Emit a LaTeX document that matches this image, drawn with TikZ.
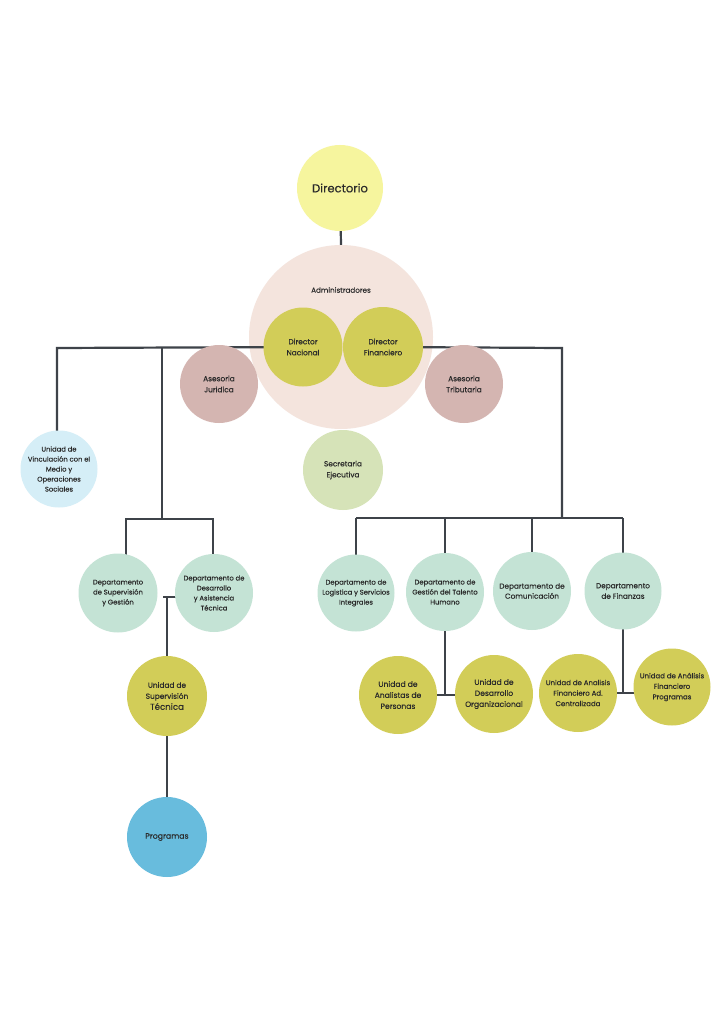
\documentclass[tikz,border=0pt]{standalone}
\usepackage{fontspec}
\setmainfont{Poppins}
\newfontfamily\medf{Poppins}[FakeBold=0.25]
\definecolor{yelA}{HTML}{F6F59E}
\definecolor{pinkA}{HTML}{F4E4DD}
\definecolor{oliveA}{HTML}{D2CD58}
\definecolor{roseA}{HTML}{D4B5B1}
\definecolor{sageA}{HTML}{D6E3B8}
\definecolor{lblueA}{HTML}{D5EEF7}
\definecolor{mintA}{HTML}{C4E3D5}
\definecolor{blueA}{HTML}{68BCDD}
\definecolor{lineA}{HTML}{3E4349}
\definecolor{txtA}{HTML}{2A2A2A}
\pgfdeclarelayer{bottom}
\pgfdeclarelayer{bg}
\pgfsetlayers{bottom,bg,main}
\tikzset{
  circ/.style={circle, inner sep=0pt, minimum size=#1, align=center, text=txtA,
    font=\medf\fontsize{6.8}{10}\selectfont},
  bigtxt/.style={font=\medf\fontsize{7.4}{11}\selectfont},
  conn/.style={draw=lineA, line width=2.2pt}
}
\begin{document}
\begin{tikzpicture}[x=1pt,y=-1pt]
\begin{pgfonlayer}{bottom}
\fill[white] (0,0) rectangle (724,1024);
\end{pgfonlayer}
\useasboundingbox (0,0) rectangle (724,1024);
% top
\node[circ=86pt, fill=yelA, font=\medf\fontsize{11.6}{14}\selectfont] (dir) at (340,188) {Directorio};
\begin{pgfonlayer}{bottom}
\node[circ=184pt, fill=pinkA] (adm) at (341,337) {};
\end{pgfonlayer}
\node[text=txtA, font=\medf\fontsize{7.2}{10}\selectfont] (admlbl) at (341,290) {Administradores};
\node[circ=79pt, fill=oliveA, bigtxt] (dn) at (303,347) {Director\\Nacional};
\node[circ=80pt, fill=oliveA, bigtxt] (df) at (383,347) {Director\\Financiero};
\node[circ=78pt, fill=roseA, bigtxt] (aj) at (219,384) {Asesoria\\Juridica};
\node[circ=78pt, fill=roseA, bigtxt] (at) at (464,384) {Asesoria\\Tributaria};
\node[circ=80pt, fill=sageA, bigtxt] (se) at (343,470) {Secretaria\\Ejecutiva};
% left branch
\node[circ=77pt, fill=lblueA] (uv) at (59,469) {Unidad de\\Vinculación con el\\Medio y\\Operaciones\\Sociales};
\node[circ=79pt, fill=mintA] (dsg) at (118,593) {Departamento\\de Supervisión\\y Gestión};
\node[circ=78pt, fill=mintA] (dda) at (214,593) {Departamento de\\Desarrollo\\y Asistencia\\Técnica};
\node[circ=80pt, fill=oliveA, bigtxt] (ust) at (167,696) {Unidad de\\Supervisión\\{\fontsize{8.6}{10}\selectfont Técnica}};
\node[circ=80pt, fill=blueA, font=\medf\fontsize{7.8}{10}\selectfont] (prog) at (167,837) {Programas};
% right branch
\node[circ=77pt, fill=mintA] (dls) at (356,593) {Departamento de\\Logistica y Servicios\\Integrales};
\node[circ=78pt, fill=mintA] (dgt) at (445,592) {Departamento de\\Gestión del Talento\\Humano};
\node[circ=78pt, fill=mintA, font=\medf\fontsize{7.3}{10}\selectfont] (dcom) at (532,591) {Departamento de\\Comunicación};
\node[circ=77pt, fill=mintA, font=\medf\fontsize{7.3}{10.5}\selectfont] (dfin) at (623,591) {Departamento\\de Finanzas};
\node[circ=78pt, fill=oliveA, font=\medf\fontsize{7.6}{11}\selectfont] (uap) at (398,695) {Unidad de\\Analistas de\\Personas};
\node[circ=78pt, fill=oliveA, font=\medf\fontsize{7.6}{11}\selectfont] (udo) at (494,694) {Unidad de\\Desarrollo\\Organizacional};
\node[circ=78pt, fill=oliveA, font=\medf\fontsize{7}{10.5}\selectfont] (uafc) at (578,693) {Unidad de Analisis\\Financiero Ad.\\Centralizada};
\node[circ=77pt, fill=oliveA, font=\medf\fontsize{7}{10.5}\selectfont] (uafp) at (672,687) {Unidad de Análisis\\Financiero\\Programas};
% junction coordinates
\coordinate (lc) at (57,348);
\coordinate (lj) at (162,348);
\coordinate (lb) at (162,519);
\coordinate (kk) at (163,597);
\coordinate (rj) at (562,348);
\coordinate (rb) at (562,518);
\coordinate (uapj) at (445,695);
\coordinate (ufj) at (623,693);
\begin{pgfonlayer}{bg}
\draw[conn] (dir.center) -- (adm.north);
\draw[conn] (dn.center) -- (lc) -- (uv.center -| lc);
\draw[conn] (lj) -- (lb);
\draw[conn] ([xshift=8pt]dsg.center) |- (lb) -| ([xshift=-1pt]dda.center);
\draw[conn] (kk) -- (dda.center |- kk);
\draw[conn] (ust.center |- kk) -- (ust.center) -- (prog.center);
\draw[conn] (df.center) -- (rj) -- (rb);
\draw[conn] (dls.center |- rb) -- (dfin.center |- rb);
\draw[conn] (dls.center) -- (dls.center |- rb);
\draw[conn] (dgt.center) -- (dgt.center |- rb);
\draw[conn] (dcom.center) -- (dcom.center |- rb);
\draw[conn] (dfin.center) -- (dfin.center |- rb);
\draw[conn] (dgt.center) -- (uapj);
\draw[conn] (uap.center) -- (udo.center |- uap.center);
\draw[conn] (dfin.center) -- (ufj);
\draw[conn] (uafc.center) -- (uafp.center |- uafc.center);
\end{pgfonlayer}
\end{tikzpicture}
\end{document}
